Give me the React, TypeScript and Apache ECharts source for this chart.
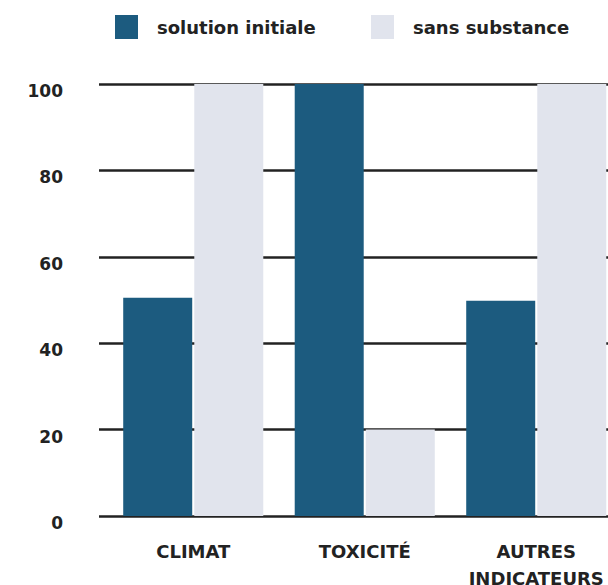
import React, { useEffect, useRef } from "react";
import * as echarts from "echarts";

const categories = ["CLIMAT", "TOXICITÉ", "AUTRES\nINDICATEURS"];
const seriesNames = ["solution initiale", "sans substance"];
const solutionInitiale = [50.5, 100, 49.8];
const sansSubstance = [100, 20, 100];
const yTicks = { min: 0, max: 100, interval: 20 };

const FONT = "DejaVu Sans";
const BLUE = "#1c5b7f";
const GRAY = "#e1e4ed";
const INK = "#222222";

const legendText = {
  fontFamily: FONT,
  fontWeight: "bold",
  fontSize: 18,
  color: INK,
  padding: [0, 0, 0, 14],
};

export default function App() {
  const ref = useRef<HTMLDivElement>(null);
  useEffect(() => {
    if (!ref.current) return;
    const chart = echarts.init(ref.current, null, { renderer: "svg" });
    chart.setOption({
      animation: false,
      backgroundColor: "#ffffff",
      legend: [
        {
          left: 110,
          top: 10,
          icon: "rect",
          itemWidth: 23,
          itemHeight: 24,
          textStyle: legendText,
          data: [seriesNames[0]],
        },
        {
          left: 366,
          top: 10,
          icon: "rect",
          itemWidth: 23,
          itemHeight: 24,
          textStyle: legendText,
          data: [seriesNames[1]],
        },
      ],
      grid: [
        { left: 107.5, top: 84, width: 514.5, bottom: 69, outerBoundsMode: "none" },
        { left: 99, top: 84, width: 523, bottom: 69, outerBoundsMode: "none" },
      ],
      xAxis: [
        {
          type: "category",
          gridIndex: 0,
          data: categories,
          axisLine: { show: false },
          axisTick: { show: false },
          axisLabel: {
            interval: 0,
            hideOverlap: false,
            fontFamily: FONT,
            fontWeight: "bold",
            fontSize: 18,
            color: INK,
            lineHeight: 27,
            margin: 22,
          },
        },
        { type: "value", gridIndex: 1, show: false, min: 0, max: 1 },
      ],
      yAxis: [
        { type: "value", gridIndex: 0, show: false, min: yTicks.min, max: yTicks.max, interval: yTicks.interval },
        {
          type: "value",
          gridIndex: 1,
          min: yTicks.min,
          max: yTicks.max,
          interval: yTicks.interval,
          axisLine: { show: false },
          axisTick: { show: false },
          splitLine: { show: true, lineStyle: { color: INK, width: 2.5 } },
          axisLabel: {
            fontFamily: FONT,
            fontWeight: "bold",
            fontSize: 17,
            color: INK,
            margin: 36,
            verticalAlign: "top",
            lineHeight: 14,
          },
        },
      ],
      series: [
        {
          name: seriesNames[0],
          type: "bar",
          xAxisIndex: 0,
          yAxisIndex: 0,
          data: solutionInitiale,
          barWidth: 69,
          barGap: "3%",
          itemStyle: { color: BLUE },
        },
        {
          name: seriesNames[1],
          type: "bar",
          xAxisIndex: 0,
          yAxisIndex: 0,
          data: sansSubstance,
          barWidth: 69,
          barGap: "3%",
          itemStyle: { color: GRAY },
        },
      ],
    });
    return () => chart.dispose();
  }, []);
  return (
    <div
      ref={ref}
      style={{ position: "fixed", left: 0, top: 0, width: 608, height: 585 }}
    />
  );
}
